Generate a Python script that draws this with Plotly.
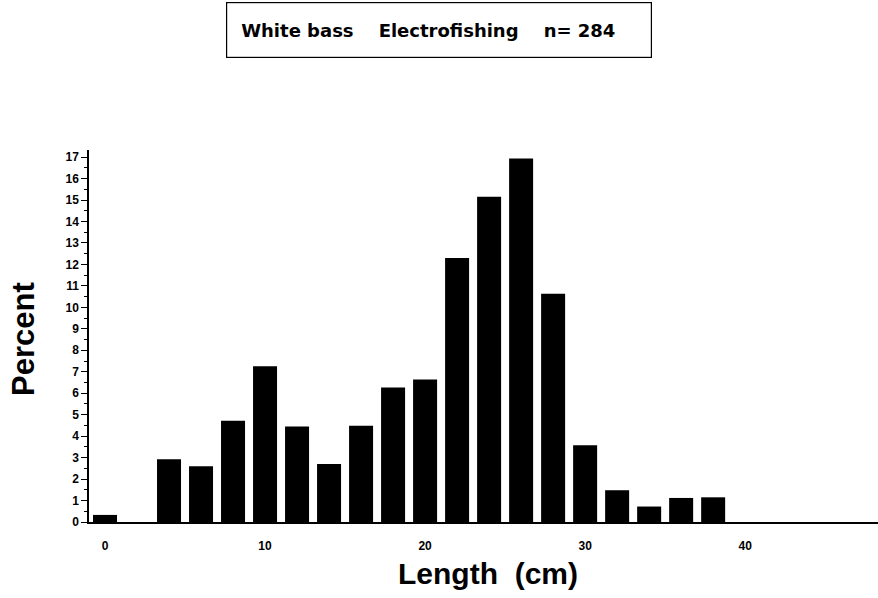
import plotly.graph_objects as go

# length class midpoints (cm) and percent of catch
length_cm = [0, 2, 4, 6, 8, 10, 12, 14, 16, 18, 20, 22, 24, 26, 28, 30, 32, 34, 36, 38]
percent = [0.33, 0.0, 2.92, 2.6, 4.72, 7.25, 4.45, 2.7, 4.48, 6.27, 6.64, 12.3, 15.15,
           16.93, 10.63, 3.57, 1.48, 0.72, 1.12, 1.15]

x_ticks = [0, 10, 20, 30, 40]
y_ticks = list(range(0, 18))

font = "Liberation Sans, Arial, sans-serif"

fig = go.Figure()
fig.add_trace(go.Bar(x=length_cm, y=percent, width=1.5,
                     marker=dict(color="black", line=dict(width=0))))

fig.update_layout(
    width=878, height=598,
    margin=dict(l=89, r=0, t=150, b=76),
    paper_bgcolor="white", plot_bgcolor="white",
    showlegend=False,
    font=dict(family=font, color="black"),
)

fig.update_xaxes(
    range=[-1, 48.3], automargin=False,
    tickmode="array", tickvals=x_ticks,
    ticks="", ticklabelstandoff=12,
    tickfont=dict(size=12, weight="bold"),
    showline=True, linecolor="black", linewidth=1.5,
    showgrid=False, zeroline=False,
)

fig.update_yaxes(
    range=[0, 17.33], automargin=False,
    tickmode="array", tickvals=y_ticks,
    ticks="outside", ticklen=6, tickwidth=1.2, tickcolor="black",
    minor=dict(tickmode="array", tickvals=[v + 0.5 for v in y_ticks[:-1]],
               ticks="outside", ticklen=3, tickwidth=1, tickcolor="black"),
    tickfont=dict(size=12, weight="bold"),
    showline=True, linecolor="black", linewidth=1.5,
    showgrid=False, zeroline=False,
)

# axis titles
fig.add_annotation(text="Percent", xref="paper", yref="paper", x=0, y=0.5,
                   xshift=-66, yshift=-3, textangle=-90, showarrow=False,
                   xanchor="center", yanchor="middle",
                   font=dict(size=31, weight="bold", family=font))
fig.add_annotation(text="Length  (cm)", xref="paper", yref="paper", x=0.506, y=0,
                   yshift=-51, showarrow=False, xanchor="center", yanchor="middle",
                   font=dict(size=30, weight="bold", family=font))

# boxed title
fig.add_annotation(
    text="White bass    Electrofishing    n= 284",
    xref="paper", yref="paper", x=0.444, y=1.0, yshift=120,
    xanchor="center", yanchor="middle", align="left",
    showarrow=False, width=396, height=26,
    font=dict(size=18, weight="bold", family="DejaVu Sans, sans-serif"),
    bordercolor="black", borderwidth=1.2, borderpad=14,
    bgcolor="white",
)

# drop the default page margin so the figure sits at the window corner
fig.write_html("out.html", config={"displayModeBar": False},
               post_script="document.body.style.margin = '0';")
